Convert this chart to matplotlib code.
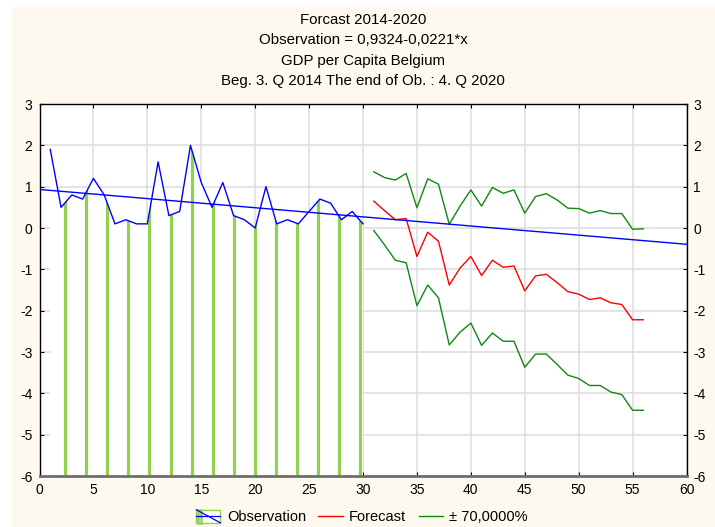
import matplotlib
matplotlib.use("Agg")
import matplotlib.pyplot as plt
import numpy as np
from matplotlib.patches import Rectangle
from matplotlib.lines import Line2D

plt.rcParams['font.family'] = ['Liberation Sans', 'DejaVu Sans']
plt.rcParams['axes.unicode_minus'] = False

# observed GDP per capita (quarter index 1..30)
obs_x = np.arange(1, 31)
obs_y = [1.9, 0.5, 0.8, 0.7, 1.2, 0.8, 0.1, 0.2, 0.1, 0.1,
         1.6, 0.3, 0.4, 2.0, 1.1, 0.5, 1.1, 0.3, 0.2, 0.0,
         1.0, 0.1, 0.2, 0.1, 0.4, 0.7, 0.6, 0.2, 0.4, 0.1]

# trend: Observation = 0,9324 - 0,0221*x
intercept = 0.9324
slope = -0.0221

# forecast 31..56 with 70% band
fc_x = np.arange(31, 57)
fc_mid = [0.65, 0.42, 0.20, 0.23, -0.69, -0.10, -0.32, -1.38, -0.97, -0.69,
          -1.15, -0.78, -0.95, -0.92, -1.52, -1.16, -1.12, -1.32, -1.54, -1.60,
          -1.73, -1.69, -1.81, -1.85, -2.22, -2.22]
fc_up = [1.36, 1.22, 1.16, 1.32, 0.49, 1.19, 1.06, 0.09, 0.53, 0.92,
         0.53, 0.98, 0.84, 0.92, 0.36, 0.76, 0.83, 0.68, 0.48, 0.47,
         0.36, 0.42, 0.35, 0.35, -0.03, -0.02]
fc_lo = [-0.06, -0.41, -0.78, -0.84, -1.88, -1.38, -1.69, -2.83, -2.52, -2.30,
         -2.84, -2.54, -2.74, -2.74, -3.37, -3.05, -3.05, -3.30, -3.56, -3.64,
         -3.81, -3.81, -3.97, -4.03, -4.41, -4.41]

title_lines = ["Forcast 2014-2020",
               "Observation = 0,9324-0,0221*x",
               "GDP per Capita Belgium",
               "Beg. 3. Q 2014 The end of Ob. : 4. Q 2020"]

cream = '#FDF9EE'
hatch_green = '#92D050'
band_green = '#118811'


class ObsHandler:
    # legend key: hatched box crossed by the blue line
    def legend_artist(self, legend, orig_handle, fontsize, handlebox):
        x0, y0 = -handlebox.xdescent, -handlebox.ydescent
        w, h = handlebox.width, handlebox.height
        tr = handlebox.get_transform()
        box = Rectangle((x0, y0), w, h, facecolor='white', edgecolor=hatch_green,
                        linewidth=1.0, transform=tr)
        handlebox.add_artist(box)
        for fx in (0.06, 0.2):
            handlebox.add_artist(Line2D([x0 + fx * w] * 2, [y0, y0 + h], color=hatch_green,
                                        linewidth=1.8, transform=tr))
        handlebox.add_artist(Line2D([x0, x0 + w], [y0 + h / 2] * 2, color='#0000FF',
                                    linewidth=0.9, transform=tr))
        handlebox.add_artist(Line2D([x0, x0 + w], [y0 + h, y0], color='#0000FF',
                                    linewidth=0.9, transform=tr))
        return box


fig = plt.figure(figsize=(7.15, 5.27), dpi=100, facecolor='white')
fig.patches.append(Rectangle((12/715, 0), 1, 1 - 7/527, transform=fig.transFigure,
                             facecolor=cream, edgecolor='none', zorder=-10))
ax = fig.add_axes([39.5/715, 51/527, 647/715, 372/527])
ax.set_facecolor('white')

ax.set_xlim(0, 60)
ax.set_ylim(-6, 3)
ax.set_xticks(np.arange(0, 61, 5))
ax.set_yticks(np.arange(-6, 4, 1))
ax.grid(True, color='#DDDDDD', linewidth=1.1, zorder=0)
ax.set_axisbelow(True)

# observation area: white fill with green vertical hatching
area = ax.fill_between(obs_x, obs_y, -6, facecolor='white', edgecolor='none', zorder=1)
hatch_x = np.arange(2.4, 30.0, 1.95)
vl = ax.vlines(hatch_x, -6, 3, colors=hatch_green, linewidth=2.3, zorder=2)
vl.set_clip_path(area.get_paths()[0], ax.transData)
obs_line, = ax.plot(obs_x, obs_y, color='#0000FF', linewidth=1.0, zorder=4)

tx = np.array([0, 60])
ax.plot(tx, intercept + slope * tx, color='#0000FF', linewidth=1.0, zorder=5)

fc_line, = ax.plot(fc_x, fc_mid, color='#FF0000', linewidth=1.0, zorder=4)
band_line, = ax.plot(fc_x, fc_up, color=band_green, linewidth=1.0, zorder=4)
ax.plot(fc_x, fc_lo, color=band_green, linewidth=1.0, zorder=4)

ax.tick_params(direction='in', length=3, top=True, right=True,
               labelright=True, labelsize=10, colors='black', pad=5)
for s in ['top', 'right', 'left']:
    ax.spines[s].set_color('black')
    ax.spines[s].set_linewidth(1.0)
ax.spines['bottom'].set_color('#6E6E6E')
ax.spines['bottom'].set_linewidth(2.0)

title_y = [20.5, 40.3, 60.5, 80.5]
for t, yy in zip(title_lines, title_y):
    fig.text(363/715, 1 - yy/527, t, ha='center', va='center', fontsize=10.8)

handles = [obs_line,
           Line2D([], [], color='#FF0000', linewidth=1.0),
           Line2D([], [], color=band_green, linewidth=1.0)]
labels = ['Observation', 'Forecast', '\u00b1 70,0000%']
fig.legend(handles, labels, loc='center', bbox_to_anchor=(362/715, 10/527), ncol=3,
           frameon=False, fontsize=10.5, handlelength=1.65, handleheight=1.0,
           columnspacing=0.85, handletextpad=0.45,
           handler_map={obs_line: ObsHandler()})

fig.savefig('out.png', dpi=100, facecolor='white')
